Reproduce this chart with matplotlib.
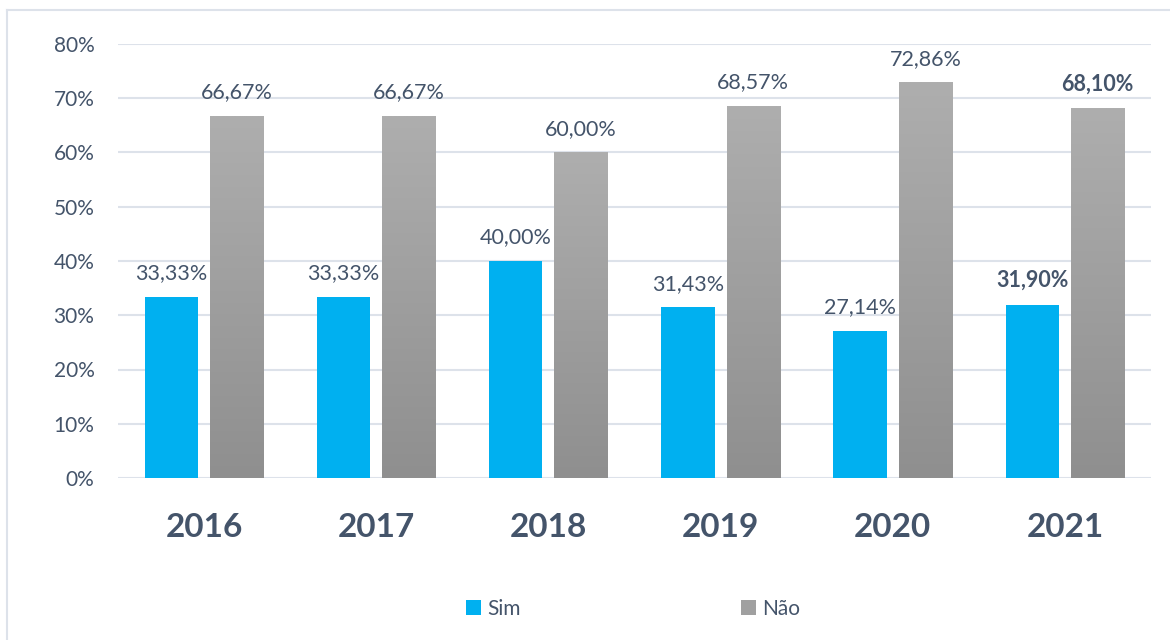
import matplotlib.pyplot as plt
import numpy as np
from matplotlib.lines import Line2D
from matplotlib.colors import LinearSegmentedColormap

# data
anos = ['2016', '2017', '2018', '2019', '2020', '2021']
sim = [33.33, 33.33, 40.00, 31.43, 27.14, 31.90]
nao = [66.67, 66.67, 60.00, 68.57, 72.86, 68.10]
sim_labels = ['33,33%', '33,33%', '40,00%', '31,43%', '27,14%', '31,90%']
nao_labels = ['66,67%', '66,67%', '60,00%', '68,57%', '72,86%', '68,10%']

plt.rcParams['font.family'] = ['Lato', 'DejaVu Sans']
texto = '#44546A'
azul = '#00B0F0'

fig = plt.figure(figsize=(11.7, 6.4), dpi=100)
ax = fig.add_axes([118/1170, 1 - 478/640, 1033/1170, 434/640])

x = np.arange(len(anos))
w = 0.31
off = 0.19

b1 = ax.bar(x - off, sim, w, color=azul, zorder=3)
b2 = ax.bar(x + off, nao, w, color='#A0A0A0', zorder=3)

# gradient fill on the grey bars
grad = np.linspace(0, 1, 256).reshape(-1, 1)
cmap = LinearSegmentedColormap.from_list('cinza', ['#8F8F8F', '#AEAEAE'])
for bar in b2:
    bx, by = bar.get_x(), bar.get_y()
    bw, bh = bar.get_width(), bar.get_height()
    ax.imshow(grad, cmap=cmap, origin='lower', aspect='auto',
              extent=(bx, bx + bw, by, by + bh), zorder=4)

ax.set_xlim(-0.5, len(anos) - 0.5)
ax.set_ylim(0, 80)

for i in range(len(anos)):
    peso = 'bold' if i == len(anos) - 1 else 'normal'
    ax.annotate(sim_labels[i], (x[i] - off, sim[i]), xytext=(0, 10),
                textcoords='offset points', ha='center', va='bottom',
                fontsize=15.5, color=texto, fontweight=peso, zorder=5)
    ax.annotate(nao_labels[i], (x[i] + off, nao[i]), xytext=(0, 10),
                textcoords='offset points', ha='center', va='bottom',
                fontsize=15.5, color=texto, fontweight=peso, zorder=5)

ax.set_yticks(range(0, 81, 10))
ax.set_yticklabels([f'{v}%' for v in range(0, 81, 10)])
ax.set_xticks(x)
ax.set_xticklabels(anos, fontsize=24, fontweight='bold', color=texto)
ax.tick_params(axis='y', length=0, pad=17, labelsize=15, labelcolor=texto)
ax.tick_params(axis='x', length=0, pad=25)

ax.grid(axis='y', color='#DDE2EA', linewidth=1.5, zorder=0)
for s in ax.spines.values():
    s.set_visible(False)

leg = ax.legend([b1, b2], ['Sim', 'Não'], loc='center', ncol=2,
                bbox_to_anchor=(633/1170, 1 - 609/640), bbox_transform=fig.transFigure,
                frameon=False, fontsize=15, handlelength=0.7, handleheight=0.7,
                handletextpad=0.3, columnspacing=10.6)
for t in leg.get_texts():
    t.set_color(texto)

# chart frame (left and top edges visible)
fig.add_artist(Line2D([7/1170, 7/1170], [0, 1 - 10/640], transform=fig.transFigure,
                      color='#DDE2EA', linewidth=1.5))
fig.add_artist(Line2D([7/1170, 1], [1 - 10/640, 1 - 10/640], transform=fig.transFigure,
                      color='#DDE2EA', linewidth=1.5))

fig.savefig('out.png', dpi=100)
